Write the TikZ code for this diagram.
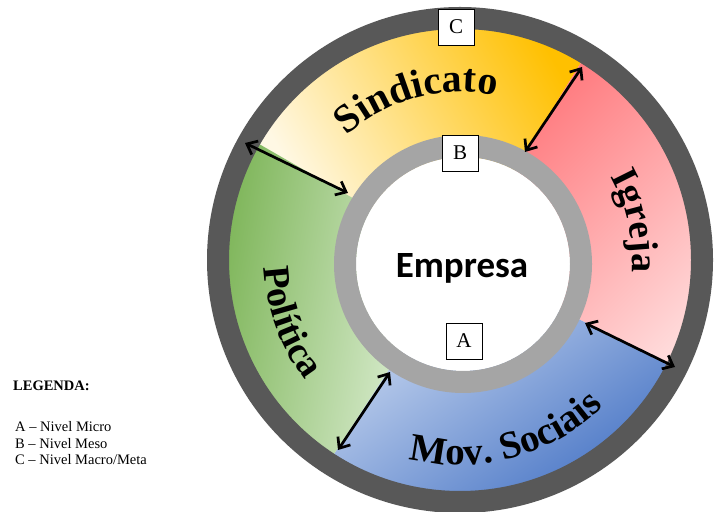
\documentclass[tikz,border=0pt]{standalone}
\usepackage{fontspec}
\setmainfont{Liberation Serif}
\newfontfamily\calibfont{Carlito}
\usetikzlibrary{calc,decorations.text,arrows.meta}
\definecolor{ringdark}{HTML}{585858}
\definecolor{ringgray}{HTML}{A5A5A5}
\definecolor{yelDark}{HTML}{FFC000}
\definecolor{yelLight}{HTML}{FFF8E4}
\definecolor{redDark}{HTML}{FF7C80}
\definecolor{redLight}{HTML}{FFDADA}
\definecolor{bluDark}{HTML}{4472C4}
\definecolor{bluLight}{HTML}{C3D3EE}
\definecolor{grnDark}{HTML}{70AD47}
\definecolor{grnLight}{HTML}{D6EACB}
\tikzset{
  dbl/.style={{Straight Barb[length=9pt,width=15pt]}-{Straight Barb[length=9pt,width=15pt]}, line width=2.7pt, black},
  lvlbox/.style={draw=black, fill=white, line width=0.8pt, minimum size=36pt, inner sep=0pt, font=\fontsize{21}{21}\selectfont},
  arctext/.style={decorate, decoration={text along path, text align=center, text color=black}},
  legtext/.style={anchor=base west, inner sep=0pt, font=\fontsize{14.5}{14.5}\selectfont}
}
\begin{document}
\begin{tikzpicture}[x=1pt,y=1pt]
\useasboundingbox (0,0) rectangle (714,511);
\fill[white] (0,0) rectangle (714,511);
\coordinate (O) at (460,251);
\coordinate (G) at (463,247);
% coloured sectors
\shade[top color=yelDark, bottom color=yelLight, shading angle=-60]
  ($(O)+(58.5:240)$) arc[start angle=58.5,end angle=150,radius=240]
  -- ($(O)+(150:100)$) arc[start angle=150,end angle=58.5,radius=100] -- cycle;
\shade[top color=redDark, bottom color=redLight, shading angle=45]
  ($(O)+(-26.5:240)$) arc[start angle=-26.5,end angle=58.5,radius=240]
  -- ($(O)+(58.5:100)$) arc[start angle=58.5,end angle=-26.5,radius=100] -- cycle;
\shade[top color=bluDark, bottom color=bluLight, shading angle=-145]
  ($(O)+(-123:240)$) arc[start angle=-123,end angle=-26.5,radius=240]
  -- ($(O)+(-26.5:100)$) arc[start angle=-26.5,end angle=-123,radius=100] -- cycle;
\shade[top color=grnDark, bottom color=grnLight, shading angle=80]
  ($(O)+(150:240)$) arc[start angle=150,end angle=237,radius=240]
  -- ($(O)+(237:100)$) arc[start angle=237,end angle=150,radius=100] -- cycle;
% rings
\fill[ringdark, even odd rule] (O) circle[radius=253] (O) circle[radius=231];
\fill[white] (G) circle[radius=107];
\fill[ringgray, even odd rule] (G) circle[radius=129] (G) circle[radius=107];
% curved labels
\path[arctext, decoration={text={|\bfseries\fontsize{40}{40}\selectfont|Sindicato}}]
  ($(O)+(150:168)$) arc[start angle=150,end angle=60,radius=168];
\path[arctext, decoration={text={|\bfseries\fontsize{38}{38}\selectfont|Igreja}}]
  ($(O)+(45:172)$) arc[start angle=45,end angle=-20,radius=172];
\path[arctext, decoration={text={|\bfseries\fontsize{38}{38}\selectfont|Política}}]
  ($(O)+(160:196)$) arc[start angle=160,end angle=240,radius=196];
\path[arctext, decoration={text={|\bfseries\fontsize{39}{39}\selectfont|Mov. Sociais}}]
  ($(O)+(245:205)$) arc[start angle=245,end angle=325,radius=205];
% centre
\node[anchor=base, inner sep=0pt, font=\calibfont\bfseries\fontsize{37}{37}\selectfont] (emp) at (462,233) {Empresa};
% level boxes
\node[lvlbox] (C) at (456,484) {C};
\node[lvlbox] (B) at (460,358) {B};
\node[lvlbox] (A) at (464,170) {A};
% arrows
\coordinate (a1o) at (245,368); \coordinate (a1i) at (348,318);
\coordinate (a2o) at (582,444); \coordinate (a2i) at (525,359);
\coordinate (a3i) at (585,188); \coordinate (a3o) at (675,144);
\coordinate (a4i) at (390,139); \coordinate (a4o) at (338,61);
\draw[dbl] (a1o) -- (a1i);
\draw[dbl] (a2o) -- (a2i);
\draw[dbl] (a3i) -- (a3o);
\draw[dbl] (a4i) -- (a4o);
% legend
\node[legtext, font=\bfseries\fontsize{14.5}{14.5}\selectfont] (leg) at (13,120) {LEGENDA:};
\node[legtext] (legA) at (15,79) {A – Nivel Micro};
\node[legtext] (legB) at (15,63) {B – Nivel Meso};
\node[legtext] (legC) at (15,47) {C – Nivel Macro/Meta};
\end{tikzpicture}
\end{document}
